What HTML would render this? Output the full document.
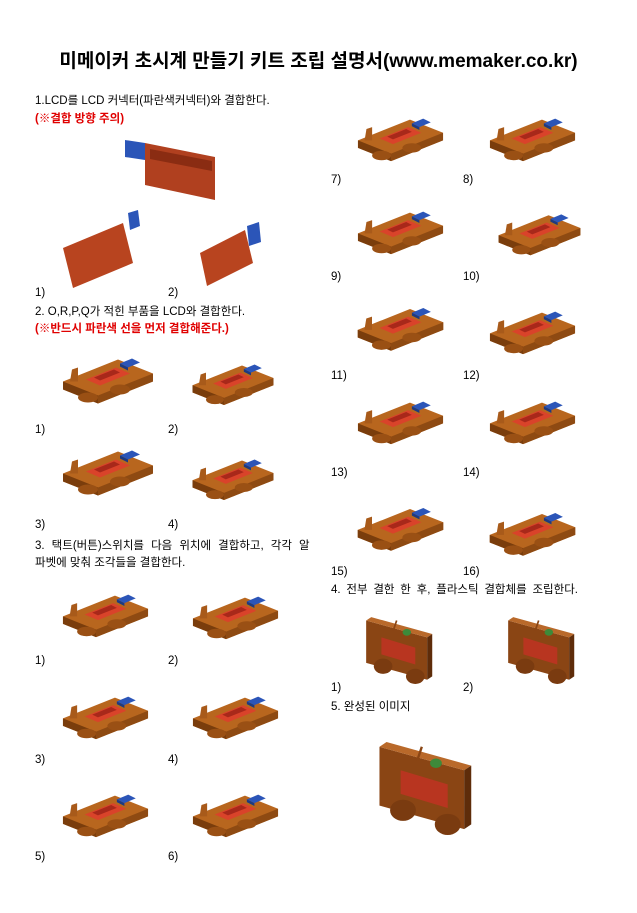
<!DOCTYPE html>
<html><head><meta charset="utf-8">
<style>
body{margin:0;background:#fff;}
#page{position:relative;width:637px;height:913px;overflow:hidden;background:#fff;font-family:"Liberation Sans","Noto Sans CJK KR","NanumGothic",sans-serif;color:#000;}
.t{position:absolute;font-size:11.5px;line-height:13px;white-space:nowrap;}
.r{color:#e00000;font-weight:bold;}
svg.p{position:absolute;}
</style></head><body>
<div id="page">
<svg width="0" height="0" style="position:absolute">
<defs>
<g id="board">
<polygon points="5,30 60,8 95,22 95,30 40,52 5,38" fill="#b8661e"/>
<polygon points="5,30 40,44 40,52 5,38" fill="#7a3d0c"/>
<polygon points="40,44 95,22 95,30 40,52" fill="#8e4a12"/>
<ellipse cx="30" cy="46" rx="10" ry="5" fill="#9a5014"/>
<ellipse cx="62" cy="38" rx="10" ry="5" fill="#9a5014"/>
<polygon points="12,30 14,18 20,16 20,30" fill="#a85a1a"/>
<polygon points="28,28 58,16 72,22 42,34" fill="#d9432a"/>
<polygon points="36,26 56,18 62,21 42,29" fill="#a8281a"/>
<polygon points="62,12 74,7 82,11 70,16" fill="#2b55b8"/>
<polygon points="62,12 70,16 70,19 62,15" fill="#1d3a80"/>
</g>
<g id="car">
<polygon points="8,10 80,30 80,80 8,60" fill="#8a4514"/>
<polygon points="8,10 14,6 86,26 80,30" fill="#b9692a"/>
<polygon points="80,30 86,26 86,76 80,80" fill="#5e2c0a"/>
<ellipse cx="28" cy="64" rx="11" ry="9" fill="#7a3b10"/>
<ellipse cx="66" cy="76" rx="11" ry="9" fill="#7a3b10"/>
<polygon points="26,30 66,42 66,62 26,50" fill="#b83520"/>
<ellipse cx="56" cy="24" rx="5" ry="4" fill="#3d8a3a"/>
<line x1="40" y1="22" x2="44" y2="10" stroke="#8a4514" stroke-width="2"/>
</g>
</defs>
</svg>

<div class="t" style="left:0;width:637px;text-align:center;top:50px;font-size:19px;line-height:23px;font-weight:bold;">미메이커 초시계 만들기 키트 조립 설명서(www.memaker.co.kr)</div>

<div class="t" style="left:35px;top:95px;">1.LCD를 LCD 커넥터(파란색커넥터)와 결합한다.</div>
<div class="t r" style="left:35px;top:113px;">(※결합 방향 주의)</div>
<svg class="p" style="left:120px;top:135px" width="105" height="70" viewBox="0 0 105 70">
<polygon points="5,5 25,8 25,25 5,22" fill="#2b55b8"/>
<polygon points="25,8 95,22 95,65 25,50" fill="#b0401f"/>
<polygon points="30,14 92,26 92,36 30,24" fill="#8a2c12"/>
</svg>
<svg class="p" style="left:58px;top:208px" width="95" height="80" viewBox="0 0 95 80">
<polygon points="5,40 65,15 75,55 15,80" fill="#b8441f"/>
<polygon points="70,5 80,2 82,18 72,22" fill="#2b55b8"/>
</svg>
<svg class="p" style="left:195px;top:218px" width="75" height="70" viewBox="0 0 75 70">
<polygon points="5,35 50,12 58,45 12,68" fill="#b8441f"/>
<polygon points="52,8 64,4 66,24 54,28" fill="#2b55b8"/>
</svg>
<div class="t" style="left:35px;top:287px;">1)</div>
<div class="t" style="left:168px;top:287px;">2)</div>

<div class="t" style="left:35px;top:306px;">2. O,R,P,Q가 적힌 부품을 LCD와 결합한다.</div>
<div class="t r" style="left:35px;top:323px;">(※반드시 파란색 선을 먼저 결합해준다.)</div>

<svg class="p" style="left:58px;top:350px" width="100" height="58" viewBox="0 0 100 55"><use href="#board"/></svg>
<svg class="p" style="left:188px;top:358px" width="90" height="50" viewBox="0 0 100 55"><use href="#board"/></svg>
<div class="t" style="left:35px;top:424px;">1)</div>
<div class="t" style="left:168px;top:424px;">2)</div>
<svg class="p" style="left:58px;top:440px" width="100" height="62" viewBox="0 0 100 55"><use href="#board"/></svg>
<svg class="p" style="left:188px;top:453px" width="90" height="50" viewBox="0 0 100 55"><use href="#board"/></svg>
<div class="t" style="left:35px;top:519px;">3)</div>
<div class="t" style="left:168px;top:519px;">4)</div>

<div class="t" style="left:35px;top:540px;word-spacing:3.9px;">3. 택트(버튼)스위치를 다음 위치에 결합하고, 각각 알</div>
<div class="t" style="left:35px;top:557px;">파벳에 맞춰 조각들을 결합한다.</div>

<svg class="p" style="left:58px;top:588px" width="95" height="52" viewBox="0 0 100 55"><use href="#board"/></svg>
<svg class="p" style="left:188px;top:590px" width="95" height="52" viewBox="0 0 100 55"><use href="#board"/></svg>
<div class="t" style="left:35px;top:655px;">1)</div>
<div class="t" style="left:168px;top:655px;">2)</div>
<svg class="p" style="left:58px;top:690px" width="95" height="52" viewBox="0 0 100 55"><use href="#board"/></svg>
<svg class="p" style="left:188px;top:690px" width="95" height="52" viewBox="0 0 100 55"><use href="#board"/></svg>
<div class="t" style="left:35px;top:754px;">3)</div>
<div class="t" style="left:168px;top:754px;">4)</div>
<svg class="p" style="left:58px;top:788px" width="95" height="52" viewBox="0 0 100 55"><use href="#board"/></svg>
<svg class="p" style="left:188px;top:788px" width="95" height="52" viewBox="0 0 100 55"><use href="#board"/></svg>
<div class="t" style="left:35px;top:851px;">5)</div>
<div class="t" style="left:168px;top:851px;">6)</div>

<svg class="p" style="left:353px;top:112px" width="95" height="52" viewBox="0 0 100 55"><use href="#board"/></svg>
<svg class="p" style="left:485px;top:112px" width="95" height="52" viewBox="0 0 100 55"><use href="#board"/></svg>
<div class="t" style="left:331px;top:174px;">7)</div>
<div class="t" style="left:463px;top:174px;">8)</div>
<svg class="p" style="left:353px;top:205px" width="95" height="52" viewBox="0 0 100 55"><use href="#board"/></svg>
<svg class="p" style="left:492px;top:208px" width="95" height="50" viewBox="0 0 100 55"><use href="#board"/></svg>
<div class="t" style="left:331px;top:271px;">9)</div>
<div class="t" style="left:463px;top:271px;">10)</div>
<svg class="p" style="left:353px;top:300px" width="95" height="55" viewBox="0 0 100 55"><use href="#board"/></svg>
<svg class="p" style="left:485px;top:305px" width="95" height="52" viewBox="0 0 100 55"><use href="#board"/></svg>
<div class="t" style="left:331px;top:370px;">11)</div>
<div class="t" style="left:463px;top:370px;">12)</div>
<svg class="p" style="left:353px;top:395px" width="95" height="52" viewBox="0 0 100 55"><use href="#board"/></svg>
<svg class="p" style="left:485px;top:395px" width="95" height="52" viewBox="0 0 100 55"><use href="#board"/></svg>
<div class="t" style="left:331px;top:467px;">13)</div>
<div class="t" style="left:463px;top:467px;">14)</div>
<svg class="p" style="left:353px;top:495px" width="95" height="65" viewBox="0 0 100 55"><use href="#board"/></svg>
<svg class="p" style="left:485px;top:505px" width="95" height="55" viewBox="0 0 100 55"><use href="#board"/></svg>
<div class="t" style="left:331px;top:566px;">15)</div>
<div class="t" style="left:463px;top:566px;">16)</div>

<div class="t" style="left:331px;top:584px;word-spacing:2.6px;">4. 전부 결한 한 후, 플라스틱 결합체를 조립한다.</div>
<svg class="p" style="left:345px;top:612px" width="105" height="72" viewBox="0 0 90 85"><use href="#car"/></svg>
<svg class="p" style="left:492px;top:612px" width="95" height="72" viewBox="0 0 90 85"><use href="#car"/></svg>
<div class="t" style="left:331px;top:682px;">1)</div>
<div class="t" style="left:463px;top:682px;">2)</div>
<div class="t" style="left:331px;top:701px;">5. 완성된 이미지</div>
<svg class="p" style="left:358px;top:735px" width="130" height="100" viewBox="0 0 90 85"><use href="#car"/></svg>
</div>
</body></html>
